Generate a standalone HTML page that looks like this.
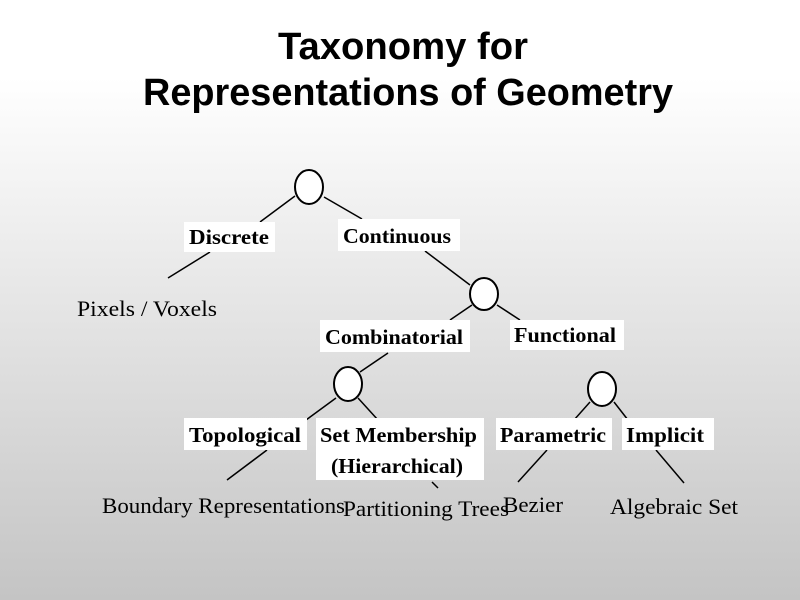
<!DOCTYPE html>
<html><head><style>
html,body{margin:0;padding:0;width:800px;height:600px;overflow:hidden}
</style></head><body>
<svg width="800" height="600" xmlns="http://www.w3.org/2000/svg">
<defs><linearGradient id="g" x1="0" y1="0" x2="0" y2="1">
<stop offset="0" stop-color="#ffffff"/><stop offset="0.13" stop-color="#ffffff"/><stop offset="1" stop-color="#c4c4c4"/></linearGradient></defs>
<rect width="800" height="600" fill="url(#g)"/>
<g font-family="Liberation Sans, Arial, sans-serif" font-weight="bold" font-size="38" text-anchor="middle" fill="#000">
<text x="403" y="59" textLength="250" lengthAdjust="spacingAndGlyphs">Taxonomy for</text>
<text x="408" y="105" textLength="530" lengthAdjust="spacingAndGlyphs">Representations of Geometry</text>
</g>
<g stroke="#000" stroke-width="1.5" fill="none">
<line x1="295" y1="196" x2="260" y2="222"/>
<line x1="324" y1="197" x2="362" y2="219"/>
<line x1="210" y1="252" x2="168" y2="278"/>
<line x1="425" y1="251" x2="470" y2="285"/>
<line x1="472" y1="305" x2="450" y2="320"/>
<line x1="497" y1="305" x2="520" y2="320"/>
<line x1="388" y1="353" x2="360" y2="372"/>
<line x1="336" y1="398" x2="306" y2="420"/>
<line x1="358" y1="398" x2="378" y2="420"/>
<line x1="267" y1="450" x2="227" y2="480"/>
<line x1="432" y1="482" x2="438" y2="488"/>
<line x1="590" y1="402" x2="574" y2="420"/>
<line x1="614" y1="402" x2="628" y2="420"/>
<line x1="547" y1="450" x2="518" y2="482"/>
<line x1="656" y1="450" x2="684" y2="483"/>
</g>
<g stroke="#000" stroke-width="2" fill="#fff">
<ellipse cx="309" cy="187" rx="14" ry="17"/>
<ellipse cx="484" cy="294" rx="14" ry="16"/>
<ellipse cx="348" cy="384" rx="14" ry="17"/>
<ellipse cx="602" cy="389" rx="14" ry="17"/>
</g>
<g fill="#fff">
<rect x="184" y="222" width="91" height="30"/>
<rect x="338" y="219" width="122" height="32"/>
<rect x="320" y="320" width="150" height="32"/>
<rect x="510" y="320" width="114" height="30"/>
<rect x="184" y="418" width="123" height="32"/>
<rect x="316" y="418" width="168" height="62"/>
<rect x="496" y="418" width="116" height="32"/>
<rect x="622" y="418" width="92" height="32"/>
</g>
<g font-family="Liberation Serif, Times New Roman, serif" font-weight="bold" font-size="21" fill="#000">
<text x="189" y="244" textLength="80" lengthAdjust="spacingAndGlyphs">Discrete</text>
<text x="343" y="243" textLength="108" lengthAdjust="spacingAndGlyphs">Continuous</text>
<text x="325" y="344" textLength="138" lengthAdjust="spacingAndGlyphs">Combinatorial</text>
<text x="514" y="342" textLength="102" lengthAdjust="spacingAndGlyphs">Functional</text>
<text x="189" y="442" textLength="112" lengthAdjust="spacingAndGlyphs">Topological</text>
<text x="320" y="442" textLength="157" lengthAdjust="spacingAndGlyphs">Set Membership</text>
<text x="331" y="473" textLength="132" lengthAdjust="spacingAndGlyphs">(Hierarchical)</text>
<text x="500" y="442" textLength="106" lengthAdjust="spacingAndGlyphs">Parametric</text>
<text x="626" y="442" textLength="78" lengthAdjust="spacingAndGlyphs">Implicit</text>
</g>
<g font-family="Liberation Serif, Times New Roman, serif" font-size="22" fill="#000">
<text x="77" y="316" textLength="140" lengthAdjust="spacingAndGlyphs">Pixels / Voxels</text>
<text x="102" y="513" textLength="243" lengthAdjust="spacingAndGlyphs">Boundary Representations</text>
<text x="343" y="516" textLength="166" lengthAdjust="spacingAndGlyphs">Partitioning Trees</text>
<text x="503" y="512" textLength="60" lengthAdjust="spacingAndGlyphs">Bezier</text>
<text x="610" y="514" textLength="128" lengthAdjust="spacingAndGlyphs">Algebraic Set</text>
</g>
</svg>
</body></html>
